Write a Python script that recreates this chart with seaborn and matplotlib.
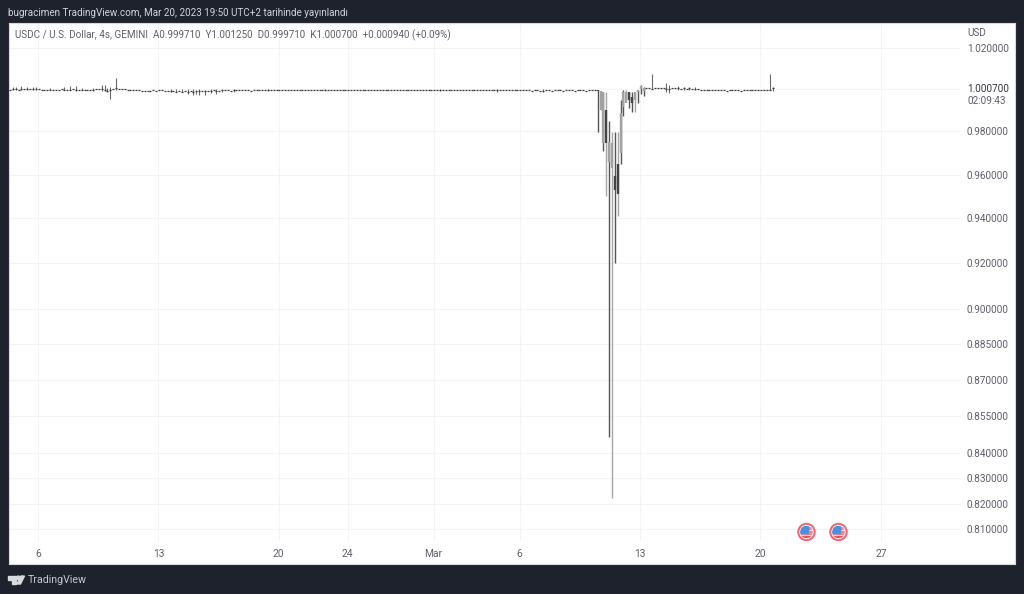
import numpy as np
import pandas as pd
import seaborn as sns
import matplotlib.pyplot as plt
from matplotlib.patches import Circle, Polygon, Rectangle
from matplotlib.transforms import IdentityTransform

sns.set_style('white')
plt.rcParams['font.family'] = ['Roboto', 'DejaVu Sans']

# closes of the flat stretch before the depeg
flat_close = [
    0.9999, 1.0000, 1.0001, 0.9999, 1.0002, 1.0000, 1.0001, 1.0000, 1.0002, 1.0001,
    1.0000, 0.9998, 0.9999, 0.9998, 0.9999, 0.9999, 0.9998, 0.9999, 1.0000, 0.9999,
    0.9998, 0.9998, 1.0000, 0.9999, 0.9998, 0.9999, 0.9999, 0.9998, 0.9997, 0.9999,
    1.0000, 1.0002, 1.0000, 0.9996, 0.9993, 0.9998, 1.0002, 1.0004, 1.0001, 1.0000,
    1.0000, 0.9999, 0.9998, 0.9998, 0.9997, 0.9996, 0.9993, 0.9994, 0.9992, 0.9993,
    0.9995, 0.9994, 0.9995, 0.9996, 0.9994, 0.9992, 0.9990, 0.9991, 0.9989, 0.9990,
    0.9988, 0.9990, 0.9987, 0.9990, 0.9988, 0.9991, 0.9992, 0.9990, 0.9993, 0.9994,
    0.9993, 0.9995, 0.9994, 0.9993, 0.9995, 0.9996, 0.9995, 0.9994, 0.9996, 0.9995,
    0.9996, 0.9997, 0.9995, 0.9996, 0.9994, 0.9995, 0.9996, 0.9997, 0.9996, 0.9995,
    0.9996, 0.9997, 0.9995, 0.9996, 0.9997, 0.9998, 0.9997, 0.9996, 0.9997, 0.9996,
    0.9997, 0.9996, 0.9997, 0.9998, 0.9997, 0.9996, 0.9995, 0.9996, 0.9997, 0.9996,
    0.9997, 0.9998, 0.9997, 0.9996, 0.9997, 0.9998, 0.9997, 0.9996, 0.9997, 0.9998,
    0.9997, 0.9996, 0.9997, 0.9997, 0.9998, 0.9997, 0.9996, 0.9997, 0.9998, 0.9997,
    0.9997, 0.9998, 0.9997, 0.9996, 0.9997, 0.9998, 0.9997, 0.9997, 0.9998, 0.9997,
    0.9996, 0.9997, 0.9998, 0.9997, 0.9997, 0.9996, 0.9997, 0.9998, 0.9997, 0.9997,
    0.9998, 0.9997, 0.9996, 0.9997, 0.9997, 0.9998, 0.9997, 0.9996, 0.9997, 0.9998,
    0.9997, 0.9997, 0.9996, 0.9997, 0.9998, 0.9997, 0.9997, 0.9996, 0.9997, 0.9997,
    0.9996, 0.9997, 0.9996, 0.9995, 0.9996, 0.9997, 0.9996, 0.9995, 0.9996, 0.9997,
    0.9995, 0.9996, 0.9994, 0.9995, 0.9996, 0.9994, 0.9993, 0.9995, 0.9996, 0.9994,
    0.9995, 0.9996, 0.9995, 0.9994, 0.9995, 0.9996, 0.9995, 0.9994, 0.9995, 0.9996,
    0.9995, 0.9994, 0.9996, 0.9995, 0.9995,
]
# the wicks that stick out of the flat stretch: candle number, high, low
flat_wick_idx = [1, 2, 4, 6, 8, 9, 14, 19, 21, 23, 25, 29, 32, 33, 35, 34, 37,
                 56, 58, 60, 62, 64, 65, 66, 68, 70, 72, 74, 78, 90, 110, 150, 170, 186]
flat_wick_high = [1.0012, 1.0010, 1.0014, 1.0010, 1.0012, 1.0011, 1.0005, 1.0012, 1.0014,
                  1.0016, 1.0008, 1.0006, 1.0020, 1.0022, 1.0010, 1.0005, 1.0055,
                  1.0001, 1.0001, 1.0002, 1.0000, 1.0000, 0.9999, 1.0000, 0.9999, 1.0001,
                  1.0000, 1.0000, 1.0001, 1.0001, 1.0001, 1.0001, 1.0001, 1.0001]
flat_wick_low = [0.9995, 0.9995, 0.9996, 0.9996, 0.9996, 0.9997, 0.9995, 0.9995, 0.9995,
                 0.9993, 0.9995, 0.9994, 0.9994, 0.9992, 0.9955, 0.9985, 0.9997,
                 0.9988, 0.9986, 0.9985, 0.9978, 0.9975, 0.9978, 0.9973, 0.9975, 0.9982,
                 0.9978, 0.9985, 0.9988, 0.9990, 0.9990, 0.9991, 0.9988, 0.9989]

# the depeg candles
spike_open = [0.99967, 0.99014, 0.97461, 0.99014, 0.96579, 0.96300, 0.95932, 0.96486,
              0.96995, 0.99141, 0.99347, 0.99870, 0.99635, 0.99490, 0.99870, 1.00000, 0.99900]
spike_close = [0.99918, 0.99918, 0.99870, 0.97461, 0.97508, 0.97461, 0.95290, 0.95108,
               0.98871, 0.99870, 0.99870, 0.99490, 0.99347, 0.99870, 0.99967, 1.00160, 1.00060]
spike_high = [0.99967, 0.99918, 0.99870, 0.99870, 0.98494, 0.97976, 0.97976, 0.97976,
              0.99490, 0.99967, 0.99967, 0.99870, 0.99870, 0.99870, 0.99967, 1.00208, 1.00111]
spike_low = [0.97976, 0.99014, 0.97089, 0.95018, 0.84655, 0.82217, 0.92015, 0.94110,
             0.96486, 0.98730, 0.99490, 0.99109, 0.98919, 0.98919, 0.99347, 0.99780, 0.99680]
spike_wick_dark = [True, False, True, False, True, False, True, False,
                   True, True, False, True, True, False, True, True, True]

# recovery, back to the flat line
tail_close = [
    1.0006, 1.0005, 1.0002, 1.0006, 1.0005, 1.0007, 1.0006, 1.0001, 1.0000, 1.0006,
    1.0005, 1.0007, 1.0003, 1.0006, 1.0001, 1.0006, 1.0003, 1.0002, 1.0001, 0.9999,
    0.9998, 0.9997, 0.9995, 0.9997, 0.9996, 0.9997, 0.9996, 0.9995, 0.9994, 0.9996,
    0.9995, 0.9996, 0.9995, 0.9994, 0.9996, 0.9997, 0.9996, 0.9997, 0.9996, 0.9996,
    0.9995, 0.9996, 0.9997, 0.9997, 1.0007,
]
tail_wick_idx = [2, 7, 8, 11, 13, 15, 17, 43, 44]
tail_wick_high = [1.00737, 1.00304, 1.00208, 1.0014, 1.0013, 1.0012, 1.0010, 1.00737, 1.00111]
tail_wick_low = [1.0000, 0.9987, 0.9982, 0.9997, 0.9998, 0.9997, 0.9997, 0.9997, 0.9992]

y_ticks = [1.02, 0.98, 0.96, 0.94, 0.92, 0.90, 0.885, 0.87, 0.855, 0.84, 0.83, 0.82, 0.81]
last_price = 1.0007
day_ticks = [0, 7, 14, 18, 23, 28, 35, 42, 49]
day_labels = ['6', '13', '20', '24', 'Mar', '6', '13', '20', '27']

BG = '#1e222d'
TXT = '#5d606b'

fig = plt.figure(figsize=(10.24, 5.94), dpi=100, facecolor=BG)
ax = fig.add_axes([9 / 1024, (594 - 564) / 594, 1006 / 1024, 541 / 594])
ax.set_facecolor('white')
for s in ax.spines.values():
    s.set_color('#d8d9dc')
    s.set_linewidth(0.8)

# candle numbers to days since Feb 6 (one candle = 4 hours)
first_day = -1.628
n_flat, n_spike = len(flat_close), len(spike_open)
flat_days = first_day + np.arange(n_flat) / 6
spike_days = first_day + (n_flat + np.arange(n_spike)) / 6
tail_days = first_day + (n_flat + n_spike + np.arange(len(tail_close))) / 6

ax.set_yscale('log')
ax.set_xlim((9 - 38) / 17.2, (1015 - 38) / 17.2)
ax.set_ylim(0.79658, 1.03229)

# faint grid stops short of the price scale
ax.hlines(y_ticks + [1.0], 0, 0.945, transform=ax.get_yaxis_transform(), color='#f4f4f5', lw=0.8, zorder=0)
ax.vlines(day_ticks, 0.0425, 1, transform=ax.get_xaxis_transform(), color='#f4f4f5', lw=0.8, zorder=0)

# wicks and dashes of the quiet parts
wick_days = np.r_[flat_days[flat_wick_idx], tail_days[tail_wick_idx]]
ax.vlines(wick_days, flat_wick_low + tail_wick_low, flat_wick_high + tail_wick_high,
          color='#6a6a6a', lw=0.8, zorder=2)
quiet = pd.DataFrame({'day': np.r_[flat_days, tail_days], 'close': flat_close + tail_close})
sns.scatterplot(data=quiet, x='day', y='close', marker='_', s=2.0, color='#3a3a3a',
                linewidth=0.9, ax=ax, zorder=3, legend=False)

# depeg candles
spike = pd.DataFrame({'day': spike_days, 'open': spike_open, 'close': spike_close,
                      'high': spike_high, 'low': spike_low, 'dark': spike_wick_dark})
for row in spike.itertuples():
    ax.vlines(row.day, row.low, row.high, color='#555555' if row.dark else '#a6a6a6', lw=1.0, zorder=2)
    body = '#444444' if row.close < row.open else '#a2a2a2'
    ax.vlines(row.day, min(row.open, row.close), max(row.open, row.close), color=body, lw=1.7, zorder=3)

ax.set_xlabel('')
ax.set_ylabel('')

# scales sit inside the plot frame, as on TradingView
ax.yaxis.tick_right()
ax.set_yticks(y_ticks + [last_price])
ax.set_yticklabels(['%.6f' % v for v in y_ticks] + ['%.6f' % last_price])
ax.minorticks_off()
ax.tick_params(axis='y', which='both', length=0, pad=-34.6, labelsize=7.2, labelcolor=TXT)
ax.get_yticklabels()[-1].set_color('#33353c')
ax.set_xticks(day_ticks)
ax.set_xticklabels(day_labels)
ax.tick_params(axis='x', length=0, pad=-11, labelsize=7.4, labelcolor=TXT)

ax.text(967, 594 - 33, 'USD', transform=IdentityTransform(), fontsize=7.2, color=TXT, va='center')
ax.text(967, 594 - 101, '02:09:43', transform=IdentityTransform(), fontsize=7.2, color=TXT, va='center')
ax.text(15, 594 - 35, 'USDC / U.S. Dollar, 4s, GEMINI  A0.999710  Y1.001250  D0.999710  K1.000700  +0.000940 (+0.09%)',
        transform=IdentityTransform(), fontsize=7.1, color=TXT, va='center')
fig.text(8 / 1024, 1 - 13 / 594, 'bugracimen TradingView.com, Mar 20, 2023 19:50 UTC+2 tarihinde yayınlandı',
         color='#d1d4dc', fontsize=7.15, va='center')
fig.text(28 / 1024, 1 - 580 / 594, 'TradingView', color='#c8cad0', fontsize=7.7, va='center')

# TradingView logo
px = IdentityTransform()
logo_col = '#d8dae0'
fig.add_artist(Polygon([(8, 594 - 576), (15.5, 594 - 576), (15.5, 594 - 584), (11.8, 594 - 584),
                        (11.8, 594 - 580), (8, 594 - 580)], closed=True, color=logo_col, transform=px))
fig.add_artist(Circle((18.2, 594 - 577.8), 1.7, color=logo_col, transform=px))
fig.add_artist(Polygon([(21, 594 - 576), (24.5, 594 - 576), (20.5, 594 - 584), (17, 594 - 584)],
                       closed=True, color=logo_col, transform=px))

# economic event flags
for cx in [806.5, 838.5]:
    cy = 594 - 532
    ring = Circle((cx, cy), 8.2, facecolor='white', edgecolor='#ec6a76', lw=1.5, transform=px, zorder=5)
    fig.add_artist(ring)
    disc = Circle((cx, cy), 6.2, transform=px)
    for top, h, col in [(5.0, 2.2, '#f0858d'), (0.6, 2.2, '#f0858d'), (-3.6, 2.4, '#e8505b')]:
        st = Rectangle((cx - 6.5, cy + top - h), 13, h, color=col, transform=px, zorder=6)
        fig.add_artist(st)
        st.set_clip_path(disc)
    canton = Rectangle((cx - 6.5, cy - 1), 7.5, 7.5, color='#4a90e2', transform=px, zorder=7)
    fig.add_artist(canton)
    canton.set_clip_path(disc)

fig.savefig('out.png', dpi=100, facecolor=BG)
